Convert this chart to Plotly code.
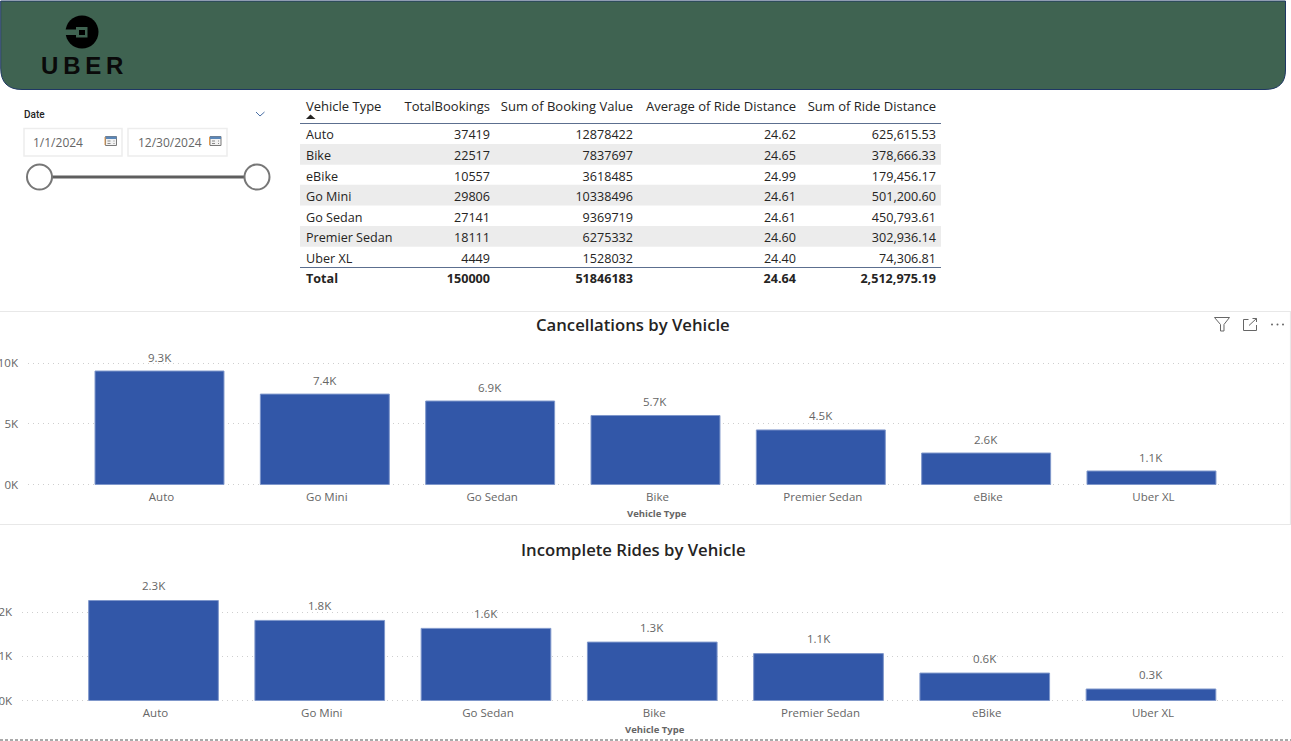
import plotly.graph_objects as go

W, H = 1291, 741

# ---- data ----
vehicle_order = ["Auto", "Go Mini", "Go Sedan", "Bike", "Premier Sedan", "eBike", "Uber XL"]
cancellations = [9340, 7440, 6870, 5680, 4490, 2590, 1110]
incomplete = [2260, 1810, 1630, 1320, 1060, 620, 260]

table_header = ["Vehicle Type", "TotalBookings", "Sum of Booking Value", "Average of Ride Distance", "Sum of Ride Distance"]
table_vehicle = ["Auto", "Bike", "eBike", "Go Mini", "Go Sedan", "Premier Sedan", "Uber XL"]
table_bookings = ["37419", "22517", "10557", "29806", "27141", "18111", "4449"]
table_value = ["12878422", "7837697", "3618485", "10338496", "9369719", "6275332", "1528032"]
table_avg = ["24.62", "24.65", "24.99", "24.61", "24.61", "24.60", "24.40"]
table_sum = ["625,615.53", "378,666.33", "179,456.17", "501,200.60", "450,793.61", "302,936.14", "74,306.81"]
table_total = ["Total", "150000", "51846183", "24.64", "2,512,975.19"]

date_start = "1/1/2024"
date_end = "12/30/2024"

# ---- style ----
FONT = "Open Sans"
BAR = "#3257A8"
GREY = "#666666"
DARK = "#252423"
STRIPE = "#ECECEC"
HEADER = "#3F6351"


def px(x):
    return x / W


def py(y):
    return 1 - y / H


def rect(x0, y0, x1, y1, fill="rgba(0,0,0,0)", line=None, width=1, layer="above"):
    return dict(type="rect", xref="paper", yref="paper", x0=px(x0), x1=px(x1), y0=py(y0), y1=py(y1),
                fillcolor=fill, line=dict(color=line or "rgba(0,0,0,0)", width=width if line else 0), layer=layer)


def seg(x0, y0, x1, y1, color, width=1, dash="solid", layer="above"):
    return dict(type="line", xref="paper", yref="paper", x0=px(x0), x1=px(x1), y0=py(y0), y1=py(y1),
                line=dict(color=color, width=width, dash=dash), layer=layer)


def circle(cx, cy, r, fill, line=None, width=1):
    return dict(type="circle", xref="paper", yref="paper", x0=px(cx - r), x1=px(cx + r), y0=py(cy + r), y1=py(cy - r),
                fillcolor=fill, line=dict(color=line or "rgba(0,0,0,0)", width=width if line else 0), layer="above")


def path(points, fill="rgba(0,0,0,0)", line=None, width=1, close=True):
    d = "M" + " L".join(f"{px(a):.5f},{py(b):.5f}" for a, b in points) + (" Z" if close else "")
    return dict(type="path", xref="paper", yref="paper", path=d, fillcolor=fill,
                line=dict(color=line or "rgba(0,0,0,0)", width=width if line else 0), layer="above")


def text(x, y, s, size=12, color=GREY, anchor="center", family=FONT, weight=None):
    return dict(xref="paper", yref="paper", x=px(x), y=py(y), text=s, showarrow=False, xanchor=anchor, yanchor="middle",
                font=dict(family=family, size=size, color=color, weight=weight), align=anchor)


def nb(s):
    return s.replace(" ", "\u00a0")


def bar_labels(vals, xa, ya, shift):
    return [dict(xref=xa, yref=ya, x=c, y=v, text=f"{v / 1000:.1f}K", showarrow=False, yanchor="middle", yshift=shift,
                 font=dict(family=FONT, size=11.5, color=GREY)) for c, v in zip(vehicle_order, vals)]


fig = go.Figure()


def bar_trace(vals, xa, ya):
    return go.Bar(x=vehicle_order, y=vals, xaxis=xa, yaxis=ya, cliponaxis=False,
                  marker=dict(color=BAR, line=dict(color="#7F97CB", width=1)),
                  width=0.78, showlegend=False, hoverinfo="skip")


fig.add_trace(bar_trace(cancellations, "x", "y"))
fig.add_trace(bar_trace(incomplete, "x2", "y2"))

CLEAR = "rgba(0,0,0,0)"
ALIGN = ["left", "right", "right", "right", "right"]
col_edges = [298, 400, 498, 641, 804, 944]
col_w = [col_edges[i + 1] - col_edges[i] for i in range(5)]
fig.add_trace(go.Table(
    domain=dict(x=[px(298), px(944)], y=[py(268), py(93)]),
    columnwidth=col_w,
    header=dict(values=[nb(h) for h in table_header], height=29, align=ALIGN,
                fill_color=CLEAR, line=dict(width=0, color=CLEAR),
                font=dict(family=FONT, size=13, color=DARK)),
    cells=dict(values=[[nb(v) for v in table_vehicle], table_bookings, table_value, table_avg, table_sum], height=20.6,
               align=ALIGN, fill_color=CLEAR, line=dict(width=0, color=CLEAR),
               font=dict(family=FONT, size=12.6, color=DARK)),
))
fig.add_trace(go.Table(
    domain=dict(x=[px(298), px(944)], y=[py(293), py(266)]),
    columnwidth=col_w,
    header=dict(values=table_total, height=24, align=ALIGN, fill_color=CLEAR, line=dict(width=0, color=CLEAR),
                font=dict(family=FONT, size=12.6, color=DARK, weight=700)),
    cells=dict(values=[], fill_color=CLEAR, line=dict(width=0, color=CLEAR)),
))

shapes = []
ann = []

# banner with rounded lower corners
banner_path = (f"M{px(0.7)},{py(1)} L{px(1285.5)},{py(1)} L{px(1285.5)},{py(70)} "
               f"Q{px(1285.5)},{py(89.5)} {px(1265)},{py(89.5)} L{px(22)},{py(89.5)} "
               f"Q{px(0.7)},{py(89.5)} {px(0.7)},{py(68)} Z")
shapes.append(dict(type="path", xref="paper", yref="paper", path=banner_path, fillcolor=HEADER,
                   line=dict(color="#1F3864", width=1), layer="below"))

# logo
shapes.append(circle(82, 32, 16.5, "#000000"))
shapes.append(rect(65, 29.5, 80, 35, fill=HEADER))
shapes.append(rect(76, 27, 87.5, 37.5, fill=HEADER))
shapes.append(rect(79, 30, 85, 35, fill="#000000"))
ann.append(text(82, 65.5, "U\u2009B\u2009E\u2009R", size=24, color="#0A0A0A", family="Liberation Sans", weight=700))

# date slicer
ann.append(text(22, 114.5, "Date", size=10, color=DARK, anchor="left", family="Roboto", weight=500))
shapes.append(path([(256, 112), (260, 116), (264.5, 112)], line="#4A6FA5", width=1, close=False))
shapes.append(rect(24, 128.5, 122, 156, fill="white", line="#EDEDED", width=1.5))
shapes.append(rect(128, 128.5, 227, 156, fill="white", line="#EDEDED", width=1.5))
ann.append(text(31, 142.5, date_start, size=12, color=GREY, anchor="left"))
ann.append(text(136, 142.5, date_end, size=12, color=GREY, anchor="left"))
for cx in (111, 215.5):
    shapes.append(rect(cx - 5.5, 136.5, cx + 5.5, 145.5, fill="#F2F2F2", line="#7A7A7A", width=1))
    shapes.append(rect(cx - 5.5, 136.5, cx + 5.5, 139, fill="#5B87B8"))
    shapes.append(seg(cx - 6, 137, cx - 6, 145, "#E39A4C", 1))
    for dy in (141, 143.5):
        shapes.append(seg(cx - 3.5, dy, cx + 3.5, dy, "#8A8A8A", 1, dash="dot"))
shapes.append(seg(50, 177, 247, 177, "#5E5E5E", 3))
shapes.append(circle(39.5, 177, 12.5, "white", "#777777", 2))
shapes.append(circle(257, 177, 12.5, "white", "#777777", 2))

# table rules and row stripes
for top, bottom in ((144, 164.7), (184.8, 205.4), (226, 246.7)):
    shapes.append(rect(300, top, 941, bottom, fill=STRIPE, layer="below"))
shapes.append(seg(300, 123.5, 941, 123.5, "#5C6F8F", 1))
shapes.append(seg(300, 267.5, 941, 267.5, "#5C6F8F", 1))
shapes.append(path([(306, 119), (310.5, 114.5), (315.5, 119)], fill="#252423"))

# panels
shapes.append(rect(-2, 311.5, 1290.5, 524.5, line="#E8E8E8", width=1.2, layer="below"))
shapes.append(seg(0, 740, W, 740, "#555555", 1.2, dash="3px,2px"))

# panel icons
shapes.append(path([(1214.5, 317.5), (1229.5, 317.5), (1224, 324.5), (1224, 331), (1220.5, 331), (1220.5, 324.5)],
                   line="#666666", width=1))
shapes.append(path([(1248.5, 319.5), (1243.5, 319.5), (1243.5, 330.5), (1256.5, 330.5), (1256.5, 325)],
                   line="#666666", width=1, close=False))
shapes.append(path([(1249, 325.5), (1256.5, 318.5)], line="#666666", width=1, close=False))
shapes.append(path([(1252.5, 318.5), (1256.5, 318.5), (1256.5, 322)], line="#666666", width=1, close=False))
for cx in (1272, 1277.5, 1283):
    shapes.append(circle(cx, 324.5, 1, "#666666"))

# titles
ann.append(text(633, 324, "Cancellations by Vehicle", size=16.7, color=DARK, weight=600))
ann.append(text(633, 549, "Incomplete Rides by Vehicle", size=16.7, color=DARK, weight=600))
ann.append(text(657.5, 513.5, "Vehicle Type", size=9.5, color=GREY, weight=700))
ann.append(text(654.5, 729.5, "Vehicle Type", size=9.5, color=GREY, weight=700))

ann += bar_labels(cancellations, "x", "y", 14)
ann += bar_labels(incomplete, "x2", "y2", 15)


def x_axis(left, right, first_center, step, anchor):
    r0 = (left - first_center) / step
    r1 = (right - first_center) / step
    return dict(domain=[px(left), px(right)], range=[r0, r1], anchor=anchor, type="category",
                categoryorder="array", categoryarray=vehicle_order, showgrid=False, zeroline=False, showline=False,
                ticks="", ticklabelstandoff=2, ticklabelshift=2,
                tickfont=dict(family=FONT, size=11.5, color=GREY), automargin=False)


def y_axis(bottom, top, vmin, vmax, ticks, ticktext, anchor):
    return dict(domain=[py(bottom), py(top)], range=[vmin, vmax], anchor=anchor, tickvals=ticks, ticktext=ticktext,
                showgrid=True, gridcolor="#CFCFCF", griddash="1px,4px", gridwidth=1, zeroline=False, showline=False,
                ticks="", ticklabelstandoff=9, tickfont=dict(family=FONT, size=11.5, color=GREY), automargin=False)


fig.update_layout(
    width=W, height=H, margin=dict(l=0, r=0, t=0, b=0, autoexpand=False),
    paper_bgcolor="white", plot_bgcolor="rgba(0,0,0,0)", showlegend=False, shapes=shapes, annotations=ann,
    bargap=0.22,
    xaxis=x_axis(28, 1284, 159.5, 165.33, "y"),
    yaxis=y_axis(486.93, 360.57, -200, 10200, [0, 5000, 10000], ["0K", "5K", "10K"], "x"),
    xaxis2=x_axis(22, 1283, 153.5, 166.25, "y2"),
    yaxis2=y_axis(702.71, 589.9, -50, 2500, [0, 1000, 2000], ["0K", "1K", "2K"], "x2"),
)

fig.write_html("out.html", config=dict(displayModeBar=False, responsive=False),
               post_script="document.body.style.margin='0';document.body.style.overflow='hidden';")
